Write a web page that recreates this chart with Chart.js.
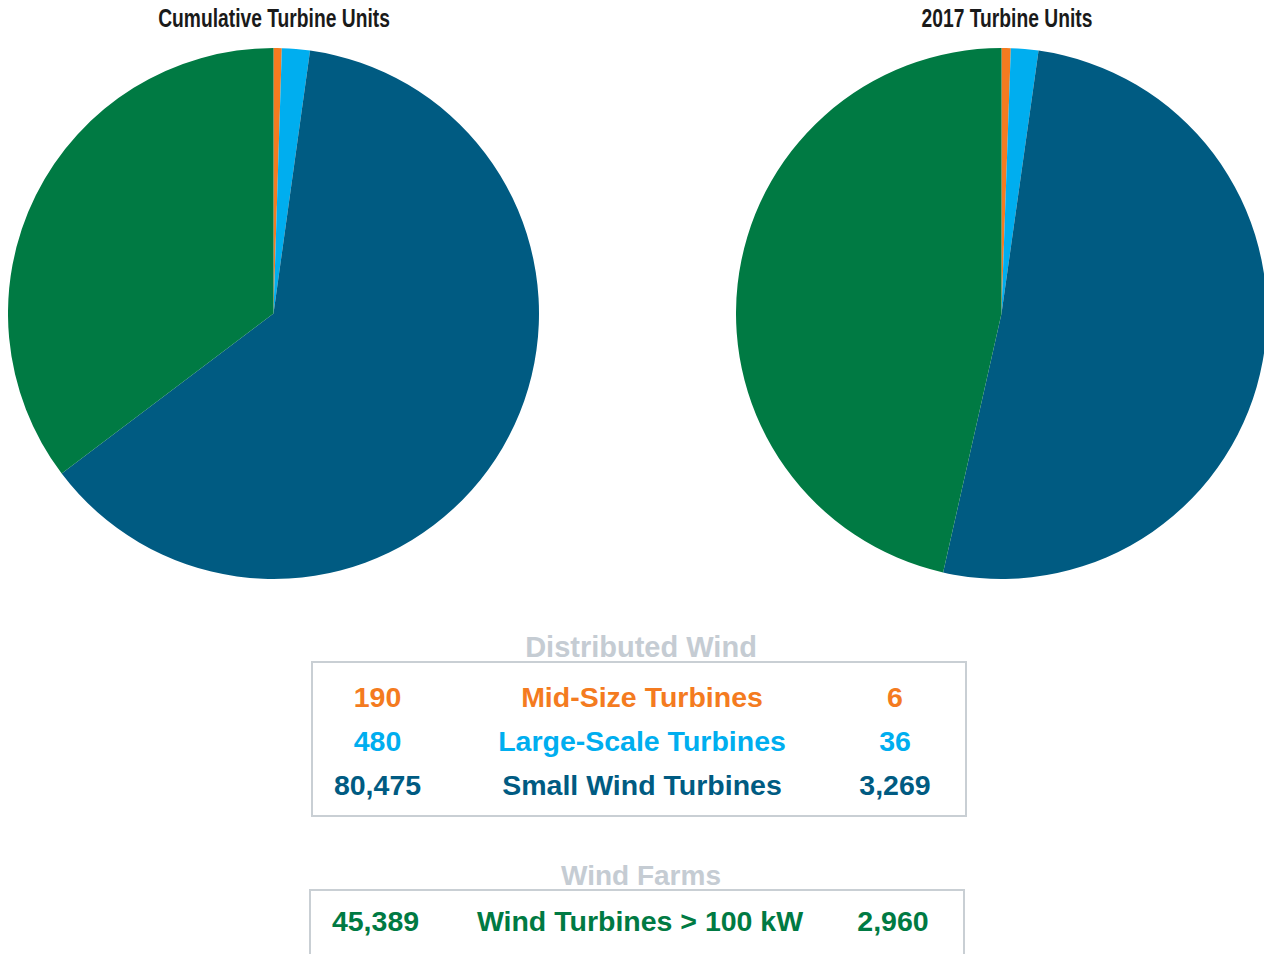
<!DOCTYPE html>
<html>
<head>
<meta charset="utf-8">
<script src="https://cdn.jsdelivr.net/npm/chart.js@4/dist/chart.umd.min.js"></script>
<style>
  html, body { margin: 0; padding: 0; background: #fff; }
  body { width: 1264px; height: 954px; position: relative; overflow: hidden; }
  .pie { position: absolute; }
  .title { position: absolute; top: 4px; width: 400px; height: 32px; line-height: 32px; text-align: center;
           color: #1a1a1a; font: bold 25px 'Liberation Sans', Arial, sans-serif;
           transform: scaleX(0.77); white-space: nowrap; }
  .head { position: absolute; left: 0; width: 1282px; text-align: center; color: #c5ccd3;
          height: 36px; line-height: 36px; font: bold 29px 'Liberation Sans', Arial, sans-serif; }
  .box { position: absolute; border: 2px solid #c9cfd4; box-sizing: border-box; }
  .row { position: absolute; left: 0; right: 0; height: 40px; line-height: 40px;
         font: bold 28.5px 'Liberation Sans', Arial, sans-serif; }
  .row span { position: absolute; top: 0; text-align: center; white-space: nowrap; }
</style>
</head>
<body>
<div class="title" style="left:73.5px;">Cumulative Turbine Units</div>
<div class="title" style="left:806.5px;">2017 Turbine Units</div>
<div class="pie" style="left:8px; top:47px; width:531px; height:533px;"><canvas id="pieTotal"></canvas></div>
<div class="pie" style="left:736px; top:47px; width:531px; height:533px;"><canvas id="pie2017"></canvas></div>

<div class="head" style="top:631px;">Distributed Wind</div>
<div class="box" id="boxDist" style="left:311px; top:661px; width:656px; height:156px;"></div>
<div class="head" style="top:860px; font-size:28px;">Wind Farms</div>
<div class="box" id="boxFarm" style="left:309px; top:889px; width:656px; height:90px;"></div>

<script>
// kategori turbin (urutan searah jarum jam dari atas)
const categories = ['Mid-Size Turbines', 'Large-Scale Turbines', 'Small Wind Turbines', 'Wind Turbines > 100 kW'];
const sliceColors = ['#f47b20', '#00aeef', '#005b82', '#007a43'];

// porsi irisan (%) seperti terlihat pada gambar
const shareCumulative = [0.5, 1.7, 62.5, 35.3];
const share2017 = [0.56, 1.67, 51.3, 46.47];

// angka unit pada tabel
const unitsCumulative = ['190', '480', '80,475', '45,389'];
const units2017 = ['6', '36', '3,269', '2,960'];

function makePie(id, shares) {
  return new Chart(document.getElementById(id), {
    type: 'pie',
    data: {
      labels: categories,
      datasets: [{
        data: shares,
        backgroundColor: sliceColors,
        borderWidth: 0,
        hoverBorderWidth: 0,
        hoverOffset: 0
      }]
    },
    options: {
      responsive: true,
      maintainAspectRatio: false,
      animation: false,
      layout: { padding: 0 },
      plugins: {
        legend: { display: false },
        tooltip: { enabled: false }
      }
    }
  });
}

makePie('pieTotal', shareCumulative);
makePie('pie2017', share2017);

// tabel: kolom kiri = kumulatif, tengah = nama, kanan = 2017
const columns = [[0, 129], [128, 402], [532, 100]];

function addRow(box, i, top) {
  const row = document.createElement('div');
  row.className = 'row';
  row.style.top = top + 'px';
  row.style.color = sliceColors[i];
  [unitsCumulative[i], categories[i], units2017[i]].forEach((txt, c) => {
    const s = document.createElement('span');
    s.textContent = txt;
    s.style.left = columns[c][0] + 'px';
    s.style.width = columns[c][1] + 'px';
    row.appendChild(s);
  });
  box.appendChild(row);
}

const boxDist = document.getElementById('boxDist');
addRow(boxDist, 0, 18);
addRow(boxDist, 1, 62);
addRow(boxDist, 2, 106);
addRow(document.getElementById('boxFarm'), 3, 14);
</script>
</body>
</html>
